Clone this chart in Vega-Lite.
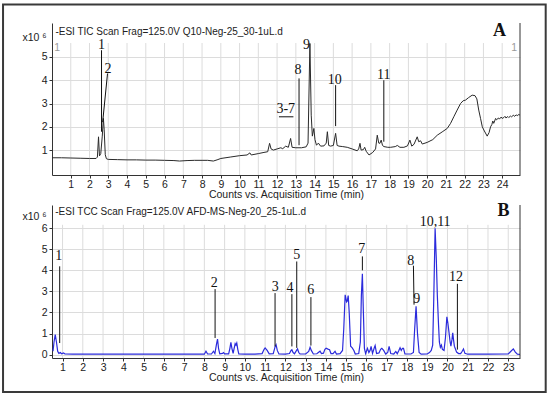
{
  "$schema": "https://vega.github.io/schema/vega-lite/v6.json",
  "padding": {"left": 2, "top": 3, "right": 0, "bottom": 0},
  "background": "white",
  "bounds": "flush",
  "spacing": 30,
  "config": {"view": {"stroke": null}, "font": "Liberation Sans"},
  "datasets": {
    "gridA": [{"t":1,"v":-0.07,"v2":5.6},{"t":2,"v":-0.07,"v2":5.6},{"t":3,"v":-0.07,"v2":5.6},{"t":4,"v":-0.07,"v2":5.6},{"t":5,"v":-0.07,"v2":5.6},{"t":6,"v":-0.07,"v2":5.6},{"t":7,"v":-0.07,"v2":5.6},{"t":8,"v":-0.07,"v2":5.6},{"t":9,"v":-0.07,"v2":5.6},{"t":10,"v":-0.07,"v2":5.6},{"t":11,"v":-0.07,"v2":5.6},{"t":12,"v":-0.07,"v2":5.6},{"t":13,"v":-0.07,"v2":5.6},{"t":14,"v":-0.07,"v2":5.6},{"t":15,"v":-0.07,"v2":5.6},{"t":16,"v":-0.07,"v2":5.6},{"t":17,"v":-0.07,"v2":5.6},{"t":18,"v":-0.07,"v2":5.6},{"t":19,"v":-0.07,"v2":5.6},{"t":20,"v":-0.07,"v2":5.6},{"t":21,"v":-0.07,"v2":5.6},{"t":22,"v":-0.07,"v2":5.6},{"t":23,"v":-0.07,"v2":5.6},{"t":24,"v":-0.07,"v2":5.6}],
    "gridB": [{"t":1,"v":-0.16,"v2":6.16},{"t":2,"v":-0.16,"v2":6.16},{"t":3,"v":-0.16,"v2":6.16},{"t":4,"v":-0.16,"v2":6.16},{"t":5,"v":-0.16,"v2":6.16},{"t":6,"v":-0.16,"v2":6.16},{"t":7,"v":-0.16,"v2":6.16},{"t":8,"v":-0.16,"v2":6.16},{"t":9,"v":-0.16,"v2":6.16},{"t":10,"v":-0.16,"v2":6.16},{"t":11,"v":-0.16,"v2":6.16},{"t":12,"v":-0.16,"v2":6.16},{"t":13,"v":-0.16,"v2":6.16},{"t":14,"v":-0.16,"v2":6.16},{"t":15,"v":-0.16,"v2":6.16},{"t":16,"v":-0.16,"v2":6.16},{"t":17,"v":-0.16,"v2":6.16},{"t":18,"v":-0.16,"v2":6.16},{"t":19,"v":-0.16,"v2":6.16},{"t":20,"v":-0.16,"v2":6.16},{"t":21,"v":-0.16,"v2":6.16},{"t":22,"v":-0.16,"v2":6.16},{"t":23,"v":-0.16,"v2":6.16}],
    "edgeA": [{"t":24.95,"v":-0.07,"v2":6.46}],
    "edgeB": [{"t":23.58,"v":-0.16,"v2":7.1}],
    "frame": [{"t":-2.61,"t2":26.32,"v":7.26,"v2":-9.39}],
    "titleA": [{"t":0.18,"v":6.07,"label":"-ESI TIC Scan Frag=125.0V Q10-Neg-25_30-1uL.d"}],
    "markersA": [{"t":0.27,"v":5.4,"label":"1"},{"t":24.64,"v":5.4,"label":"1"}],
    "titleB": [{"t":0.64,"v":6.78,"label":"-ESI TCC Scan Frag=125.0V AFD-MS-Neg-20_25-1uL.d"}],
    "panelA": [{"t":23.86,"v":6.12,"label":"A"}],
    "panelB": [{"t":22.77,"v":6.82,"label":"B"}],
    "traceA": [
      {"t":0.0,"v":0.67},{"t":0.5,"v":0.67},{"t":1.0,"v":0.66},{"t":1.5,"v":0.65},{"t":2.0,"v":0.64},{"t":2.35,"v":0.64},{"t":2.42,"v":0.7},{"t":2.48,"v":1.57},{"t":2.53,"v":0.75},{"t":2.6,"v":0.85},{"t":2.68,"v":1.6},{"t":2.74,"v":2.36},{"t":2.78,"v":1.9},{"t":2.84,"v":0.8},{"t":2.9,"v":0.63},{"t":3.0,"v":0.6},{"t":3.5,"v":0.59},{"t":4.0,"v":0.58},{"t":4.5,"v":0.58},{"t":5.0,"v":0.57},{"t":5.5,"v":0.57},{"t":6.0,"v":0.56},{"t":6.5,"v":0.55},{"t":6.8,"v":0.53},{"t":7.2,"v":0.55},{"t":7.6,"v":0.56},{"t":8.0,"v":0.56},{"t":8.3,"v":0.56},{"t":8.6,"v":0.53},{"t":8.8,"v":0.58},{"t":9.0,"v":0.64},{"t":9.5,"v":0.7},{"t":10.0,"v":0.76},{"t":10.4,"v":0.79},{"t":10.55,"v":0.88},{"t":10.62,"v":0.79},{"t":11.0,"v":0.85},{"t":11.3,"v":0.9},{"t":11.5,"v":0.93},{"t":11.6,"v":1.29},{"t":11.68,"v":1.05},{"t":11.8,"v":1.0},{"t":12.0,"v":1.05},{"t":12.2,"v":1.1},{"t":12.3,"v":1.06},{"t":12.46,"v":1.17},{"t":12.6,"v":1.12},{"t":12.72,"v":1.5},{"t":12.8,"v":1.12},{"t":13.0,"v":1.1},{"t":13.3,"v":1.1},{"t":13.55,"v":1.14},{"t":13.65,"v":1.3},{"t":13.75,"v":5.58},{"t":13.82,"v":2.5},{"t":13.88,"v":1.6},{"t":13.96,"v":1.93},{"t":14.02,"v":1.45},{"t":14.1,"v":1.21},{"t":14.2,"v":1.3},{"t":14.32,"v":1.17},{"t":14.5,"v":1.18},{"t":14.62,"v":1.3},{"t":14.68,"v":1.79},{"t":14.75,"v":1.2},{"t":14.85,"v":1.17},{"t":15.0,"v":1.2},{"t":15.12,"v":1.72},{"t":15.2,"v":1.2},{"t":15.3,"v":1.17},{"t":15.5,"v":1.15},{"t":15.74,"v":1.12},{"t":16.0,"v":1.05},{"t":16.27,"v":0.97},{"t":16.35,"v":1.05},{"t":16.42,"v":1.29},{"t":16.48,"v":1.0},{"t":16.6,"v":1.02},{"t":16.67,"v":1.12},{"t":16.75,"v":0.95},{"t":16.9,"v":0.79},{"t":17.1,"v":0.9},{"t":17.25,"v":1.05},{"t":17.34,"v":1.64},{"t":17.42,"v":1.3},{"t":17.48,"v":1.29},{"t":17.55,"v":1.43},{"t":17.62,"v":1.2},{"t":17.7,"v":1.15},{"t":17.9,"v":1.12},{"t":18.05,"v":1.12},{"t":18.3,"v":1.15},{"t":18.41,"v":1.2},{"t":18.55,"v":1.12},{"t":18.76,"v":1.12},{"t":18.95,"v":1.18},{"t":19.08,"v":1.43},{"t":19.18,"v":1.17},{"t":19.3,"v":1.25},{"t":19.47,"v":1.57},{"t":19.55,"v":1.36},{"t":19.65,"v":1.4},{"t":19.74,"v":1.26},{"t":20.0,"v":1.33},{"t":20.3,"v":1.45},{"t":20.54,"v":1.64},{"t":20.8,"v":1.78},{"t":21.07,"v":1.93},{"t":21.25,"v":2.15},{"t":21.42,"v":2.43},{"t":21.6,"v":2.72},{"t":21.78,"v":3.0},{"t":21.92,"v":3.12},{"t":22.05,"v":3.15},{"t":22.2,"v":3.25},{"t":22.4,"v":3.36},{"t":22.55,"v":3.34},{"t":22.65,"v":3.2},{"t":22.75,"v":2.72},{"t":22.85,"v":2.35},{"t":22.94,"v":2.0},{"t":23.05,"v":1.82},{"t":23.2,"v":1.6},{"t":23.3,"v":1.75},{"t":23.38,"v":2.0},{"t":23.45,"v":2.1},{"t":23.5,"v":2.25},{"t":23.55,"v":2.15},{"t":23.65,"v":2.36},{"t":23.7,"v":2.3},{"t":23.8,"v":2.38},{"t":23.85,"v":2.33},{"t":23.95,"v":2.42},{"t":24.0,"v":2.36},{"t":24.09,"v":2.4},{"t":24.15,"v":2.45},{"t":24.2,"v":2.38},{"t":24.3,"v":2.44},{"t":24.35,"v":2.4},{"t":24.44,"v":2.46},{"t":24.5,"v":2.43},{"t":24.6,"v":2.5},{"t":24.65,"v":2.45},{"t":24.75,"v":2.51},{"t":24.8,"v":2.48},{"t":24.89,"v":2.53},{"t":24.95,"v":2.5}
    ],
    "traceB": [
      {"t":0.53,"v":0.16},{"t":0.58,"v":0.6},{"t":0.64,"v":0.95},{"t":0.7,"v":0.6},{"t":0.76,"v":0.16},{"t":0.82,"v":0.06},{"t":0.9,"v":0.1},{"t":0.95,"v":0.04},{"t":1.05,"v":0.08},{"t":1.12,"v":0.03},{"t":1.5,"v":0.02},{"t":3.0,"v":0.02},{"t":5.0,"v":0.02},{"t":7.0,"v":0.02},{"t":8.0,"v":0.02},{"t":8.08,"v":0.16},{"t":8.16,"v":0.03},{"t":8.35,"v":0.03},{"t":8.45,"v":0.16},{"t":8.52,"v":0.05},{"t":8.6,"v":0.5},{"t":8.65,"v":0.74},{"t":8.7,"v":0.3},{"t":8.76,"v":0.04},{"t":8.9,"v":0.06},{"t":8.95,"v":0.1},{"t":9.0,"v":0.04},{"t":9.2,"v":0.04},{"t":9.26,"v":0.3},{"t":9.31,"v":0.58},{"t":9.36,"v":0.3},{"t":9.42,"v":0.06},{"t":9.47,"v":0.3},{"t":9.52,"v":0.52},{"t":9.56,"v":0.45},{"t":9.6,"v":0.55},{"t":9.65,"v":0.25},{"t":9.7,"v":0.03},{"t":10.0,"v":0.02},{"t":10.5,"v":0.02},{"t":10.85,"v":0.05},{"t":10.95,"v":0.25},{"t":11.0,"v":0.32},{"t":11.1,"v":0.2},{"t":11.2,"v":0.04},{"t":11.4,"v":0.05},{"t":11.5,"v":0.4},{"t":11.54,"v":0.47},{"t":11.6,"v":0.2},{"t":11.68,"v":0.03},{"t":12.0,"v":0.02},{"t":12.2,"v":0.05},{"t":12.28,"v":0.2},{"t":12.32,"v":0.23},{"t":12.38,"v":0.1},{"t":12.45,"v":0.04},{"t":12.55,"v":0.2},{"t":12.6,"v":0.27},{"t":12.66,"v":0.1},{"t":12.72,"v":0.03},{"t":13.0,"v":0.03},{"t":13.15,"v":0.15},{"t":13.22,"v":0.35},{"t":13.28,"v":0.2},{"t":13.38,"v":0.03},{"t":13.55,"v":0.04},{"t":13.71,"v":0.16},{"t":13.78,"v":0.05},{"t":13.88,"v":0.07},{"t":13.95,"v":0.25},{"t":14.01,"v":0.3},{"t":14.1,"v":0.26},{"t":14.18,"v":0.23},{"t":14.25,"v":0.05},{"t":14.35,"v":0.05},{"t":14.45,"v":0.16},{"t":14.52,"v":0.03},{"t":14.7,"v":0.05},{"t":14.82,"v":0.2},{"t":14.88,"v":1.2},{"t":14.95,"v":2.84},{"t":15.02,"v":2.5},{"t":15.05,"v":2.53},{"t":15.1,"v":2.8},{"t":15.15,"v":2.0},{"t":15.22,"v":0.4},{"t":15.3,"v":0.32},{"t":15.38,"v":0.2},{"t":15.45,"v":0.03},{"t":15.62,"v":0.05},{"t":15.7,"v":0.6},{"t":15.75,"v":2.8},{"t":15.8,"v":3.84},{"t":15.85,"v":2.0},{"t":15.9,"v":0.3},{"t":15.96,"v":0.05},{"t":16.05,"v":0.3},{"t":16.12,"v":0.1},{"t":16.18,"v":0.2},{"t":16.23,"v":0.39},{"t":16.3,"v":0.06},{"t":16.38,"v":0.3},{"t":16.43,"v":0.43},{"t":16.5,"v":0.05},{"t":16.62,"v":0.08},{"t":16.7,"v":0.25},{"t":16.76,"v":0.3},{"t":16.85,"v":0.2},{"t":16.95,"v":0.03},{"t":17.05,"v":0.1},{"t":17.12,"v":0.39},{"t":17.2,"v":0.05},{"t":17.35,"v":0.03},{"t":17.45,"v":0.15},{"t":17.52,"v":0.04},{"t":17.6,"v":0.2},{"t":17.66,"v":0.33},{"t":17.72,"v":0.2},{"t":17.78,"v":0.3},{"t":17.83,"v":0.3},{"t":17.9,"v":0.03},{"t":18.2,"v":0.03},{"t":18.32,"v":0.1},{"t":18.38,"v":1.2},{"t":18.45,"v":2.29},{"t":18.52,"v":1.0},{"t":18.6,"v":0.1},{"t":18.7,"v":0.02},{"t":19.0,"v":0.03},{"t":19.11,"v":0.1},{"t":19.2,"v":0.2},{"t":19.27,"v":0.45},{"t":19.32,"v":2.5},{"t":19.39,"v":6.0},{"t":19.45,"v":4.5},{"t":19.5,"v":2.8},{"t":19.56,"v":1.4},{"t":19.6,"v":0.6},{"t":19.65,"v":0.35},{"t":19.7,"v":0.45},{"t":19.75,"v":0.25},{"t":19.83,"v":0.2},{"t":19.9,"v":0.8},{"t":19.97,"v":1.79},{"t":20.02,"v":1.5},{"t":20.07,"v":1.1},{"t":20.13,"v":0.6},{"t":20.17,"v":0.4},{"t":20.22,"v":0.7},{"t":20.26,"v":1.03},{"t":20.3,"v":0.7},{"t":20.34,"v":0.4},{"t":20.38,"v":0.3},{"t":20.45,"v":0.12},{"t":20.55,"v":0.05},{"t":20.65,"v":0.05},{"t":20.72,"v":0.15},{"t":20.79,"v":0.27},{"t":20.86,"v":0.06},{"t":21.0,"v":0.02},{"t":22.0,"v":0.02},{"t":23.0,"v":0.03},{"t":23.12,"v":0.15},{"t":23.25,"v":0.27},{"t":23.35,"v":0.12},{"t":23.45,"v":0.02},{"t":23.58,"v":0.01}
    ],
    "linesA": [
      {"t":2.64,"v":5.29,"t2":2.64,"v2":1.79},
      {"t":2.96,"v":4.29,"t2":2.7,"v2":2.2},
      {"t":12.1,"v":2.43,"t2":12.87,"v2":2.43},
      {"t":13.17,"v":4.08,"t2":13.17,"v2":1.21},
      {"t":15.12,"v":3.79,"t2":15.12,"v2":2.03},
      {"t":17.69,"v":4.0,"t2":17.69,"v2":1.36}
    ],
    "labelsA": [
      {"t":2.64,"v":5.5,"label":"1"},
      {"t":2.99,"v":4.5,"label":"2"},
      {"t":12.46,"v":2.75,"label":"3-7"},
      {"t":13.11,"v":4.43,"label":"8"},
      {"t":13.57,"v":5.5,"label":"9"},
      {"t":15.07,"v":4.03,"label":"10"},
      {"t":17.69,"v":4.22,"label":"11"}
    ],
    "linesB": [
      {"t":0.86,"v":4.19,"t2":0.86,"v2":0.55},
      {"t":8.53,"v":3.11,"t2":8.53,"v2":0.79},
      {"t":11.49,"v":2.92,"t2":11.49,"v2":0.39},
      {"t":12.32,"v":2.87,"t2":12.32,"v2":0.39},
      {"t":12.56,"v":4.42,"t2":12.56,"v2":0.32},
      {"t":13.26,"v":2.73,"t2":13.26,"v2":0.43},
      {"t":15.8,"v":4.66,"t2":15.8,"v2":4.0},
      {"t":18.32,"v":4.22,"t2":18.35,"v2":2.37},
      {"t":20.49,"v":3.36,"t2":20.49,"v2":0.24}
    ],
    "labelsB": [
      {"t":0.81,"v":4.66,"label":"1"},
      {"t":8.49,"v":3.4,"label":"2"},
      {"t":11.5,"v":3.21,"label":"3"},
      {"t":12.23,"v":3.16,"label":"4"},
      {"t":12.56,"v":4.74,"label":"5"},
      {"t":13.25,"v":3.05,"label":"6"},
      {"t":15.77,"v":5.01,"label":"7"},
      {"t":18.19,"v":4.45,"label":"8"},
      {"t":18.48,"v":2.64,"label":"9"},
      {"t":19.39,"v":6.27,"label":"10,11"},
      {"t":20.42,"v":3.68,"label":"12"}
    ]
  },
  "vconcat": [
    {
      "width": 468,
      "height": 152,
      "encoding": {
        "x": {"field": "t", "type": "quantitative", "scale": {"domain": [0, 24.95], "nice": false, "zero": false},
          "axis": {"values": [1,2,3,4,5,6,7,8,9,10,11,12,13,14,15,16,17,18,19,20,21,22,23,24], "grid": false, "tickSize": 3, "tickColor": "#333", "domainColor": "#333", "labelFontSize": 10.5, "labelColor": "#222", "labelPadding": 1, "labelFlush": false, "title": "Counts vs. Acquisition Time (min)", "titleFontSize": 10.5, "titleFontWeight": "normal", "titleColor": "#222", "titlePadding": 0}},
        "y": {"field": "v", "type": "quantitative", "scale": {"domain": [-0.07, 6.46], "nice": false, "zero": false},
          "axis": {"values": [1,2,3,4,5], "grid": true, "gridColor": "#dcdcdc", "tickSize": 3, "tickColor": "#333", "domainColor": "#333", "labelFontSize": 10.5, "labelColor": "#222", "labelPadding": 2, "title": "x10 ⁶", "titleAngle": 0, "titleX": -30, "titleY": 14, "titleAlign": "left", "titleBaseline": "middle", "titleFontSize": 10.5, "titleFontWeight": "normal", "titleColor": "#222"}}
      },
      "layer": [
        {"data": {"name": "gridA"}, "mark": {"type": "rule", "color": "#dcdcdc", "strokeWidth": 1}, "encoding": {"y2": {"field": "v2"}}},
        {"data": {"name": "traceA"}, "mark": {"type": "line", "color": "#2a2a2a", "strokeWidth": 1}, "encoding": {}},
        {"data": {"name": "edgeA"}, "mark": {"type": "rule", "color": "#333"}, "encoding": {"y2": {"field": "v2"}}},
        {"data": {"name": "linesA"}, "mark": {"type": "rule", "color": "#111", "strokeWidth": 1}, "encoding": {"x2": {"field": "t2"}, "y2": {"field": "v2"}}},
        {"data": {"name": "labelsA"}, "mark": {"type": "text", "font": "Liberation Serif", "fontSize": 14, "color": "#111", "baseline": "middle"}, "encoding": {"text": {"field": "label"}}},
        {"data": {"name": "titleA"}, "mark": {"type": "text", "baseline": "middle", "align": "left", "fontSize": 10, "color": "#222"}, "encoding": {"text": {"field": "label"}}},
        {"data": {"name": "markersA"}, "mark": {"type": "text", "baseline": "middle", "align": "center", "fontSize": 10.5, "color": "#9a9a9a"}, "encoding": {"text": {"field": "label"}}},
        {"data": {"name": "panelA"}, "mark": {"type": "text", "baseline": "middle", "font": "Liberation Serif", "fontWeight": "bold", "fontSize": 18, "color": "#111"}, "encoding": {"text": {"field": "label"}}},
        {"data": {"name": "frame"}, "mark": {"type": "rect", "filled": false, "stroke": "#3a3a3a", "strokeWidth": 2}, "encoding": {"x2": {"field": "t2"}, "y2": {"field": "v2"}}}
      ]
    },
    {
      "width": 468,
      "height": 153,
      "encoding": {
        "x": {"field": "t", "type": "quantitative", "scale": {"domain": [0.48, 23.58], "nice": false, "zero": false},
          "axis": {"values": [1,2,3,4,5,6,7,8,9,10,11,12,13,14,15,16,17,18,19,20,21,22,23], "grid": false, "tickSize": 3, "tickColor": "#333", "domainColor": "#333", "labelFontSize": 10.5, "labelColor": "#222", "labelPadding": 1, "labelFlush": false, "title": "Counts vs. Acquisition Time (min)", "titleFontSize": 10.5, "titleFontWeight": "normal", "titleColor": "#222", "titlePadding": 0}},
        "y": {"field": "v", "type": "quantitative", "scale": {"domain": [-0.16, 7.1], "nice": false, "zero": false},
          "axis": {"values": [0,1,2,3,4,5,6], "grid": true, "gridColor": "#dcdcdc", "tickSize": 3, "tickColor": "#333", "domainColor": "#333", "labelFontSize": 10.5, "labelColor": "#222", "labelPadding": 2, "title": "x10 ⁶", "titleAngle": 0, "titleX": -30, "titleY": 11, "titleAlign": "left", "titleBaseline": "middle", "titleFontSize": 10.5, "titleFontWeight": "normal", "titleColor": "#222"}}
      },
      "layer": [
        {"data": {"name": "gridB"}, "mark": {"type": "rule", "color": "#dcdcdc", "strokeWidth": 1}, "encoding": {"y2": {"field": "v2"}}},
        {"data": {"name": "traceB"}, "mark": {"type": "line", "color": "#2b2bdc", "strokeWidth": 1.2}, "encoding": {}},
        {"data": {"name": "edgeB"}, "mark": {"type": "rule", "color": "#333"}, "encoding": {"y2": {"field": "v2"}}},
        {"data": {"name": "linesB"}, "mark": {"type": "rule", "color": "#111", "strokeWidth": 1}, "encoding": {"x2": {"field": "t2"}, "y2": {"field": "v2"}}},
        {"data": {"name": "labelsB"}, "mark": {"type": "text", "font": "Liberation Serif", "fontSize": 14, "color": "#111", "baseline": "middle"}, "encoding": {"text": {"field": "label"}}},
        {"data": {"name": "titleB"}, "mark": {"type": "text", "baseline": "middle", "align": "left", "fontSize": 10, "color": "#222"}, "encoding": {"text": {"field": "label"}}},
        {"data": {"name": "panelB"}, "mark": {"type": "text", "baseline": "middle", "font": "Liberation Serif", "fontWeight": "bold", "fontSize": 18, "color": "#111"}, "encoding": {"text": {"field": "label"}}}
      ]
    }
  ]
}
